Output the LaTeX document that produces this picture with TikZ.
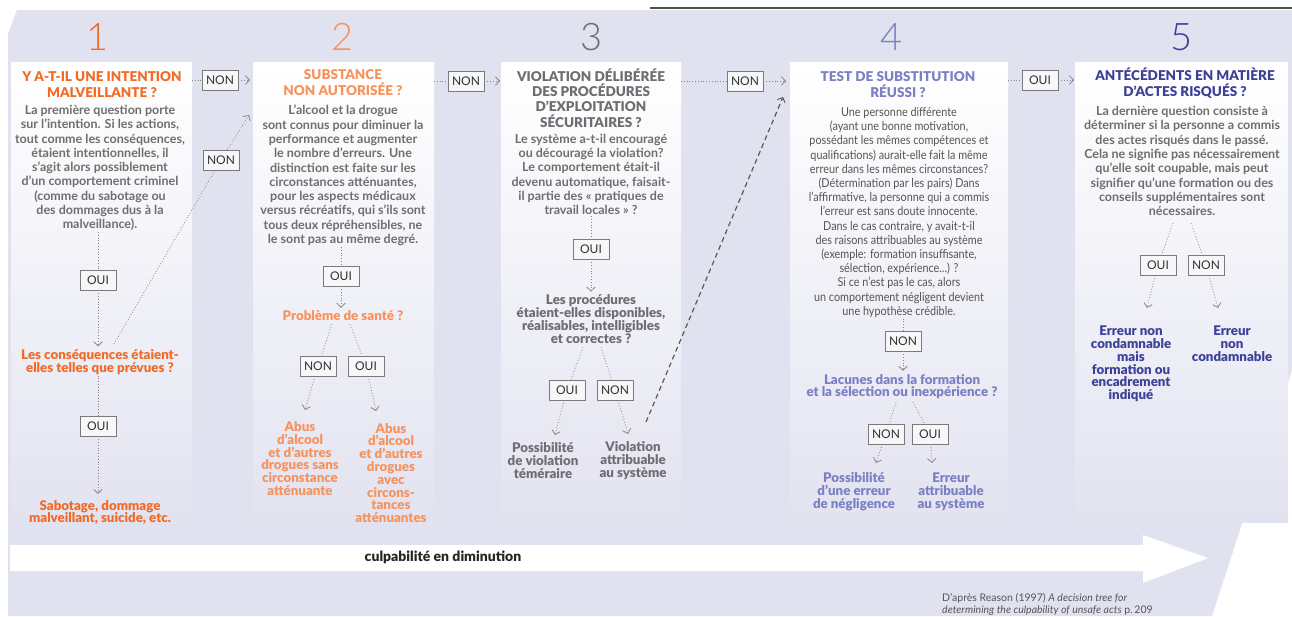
\documentclass[tikz,border=0pt]{standalone}
\usepackage{fontspec}
\setmainfont{Lato}
\IfFontExistsTF{Lato Light}{\newfontfamily\numfont{Lato Light}}{\newfontfamily\numfont{Lato}}
\IfFontExistsTF{Lato Black}{\newfontfamily\blackfont{Lato Black}}{\newfontfamily\blackfont{Lato}[UprightFont=*-Bold]}
\newfontfamily\condfont{Lato}[FakeStretch=0.88]
\usetikzlibrary{arrows.meta,calc}
\definecolor{bg}{HTML}{E1E2EF}
\definecolor{colbot}{HTML}{E2E3F0}
\definecolor{orangeA}{HTML}{F26A25}
\definecolor{orangeB}{HTML}{F7925C}
\definecolor{grayH}{HTML}{6D6D72}
\definecolor{lavH}{HTML}{7B80C5}
\definecolor{blueH}{HTML}{3D4098}
\definecolor{bodygray}{HTML}{6E6E6E}
\definecolor{bodydark}{HTML}{555555}
\definecolor{linegray}{HTML}{858585}
\definecolor{boxgray}{HTML}{7A7A7A}
\definecolor{boxfill}{HTML}{F7F7FA}
\definecolor{labeltext}{HTML}{333333}
\definecolor{topline}{HTML}{4C5148}
\definecolor{foot}{HTML}{555555}
\begin{document}
\begin{tikzpicture}[x=1pt,y=-1pt,
  lbl/.style={draw=boxgray, line width=0.8pt, fill=boxfill, minimum width=36pt, minimum height=20pt, inner sep=0pt, font=\fontsize{12}{13}\selectfont, text=labeltext},
  txt/.style={align=center, inner sep=1pt},
  body/.style={txt, text=bodygray, font=\bfseries\fontsize{12.5}{14.3}\selectfont},
  head/.style={txt, font=\blackfont\fontsize{13.5}{16}\selectfont},
  outc/.style={txt, font=\blackfont\fontsize{13.3}{12.8}\selectfont},
  num/.style={inner sep=0pt, font=\numfont\fontsize{38}{38}\selectfont},
  dl/.style={draw=linegray, line width=0.8pt, dotted},
  dla/.style={dl, -{Straight Barb[length=4pt,width=8.5pt,line width=0.8pt]}},
  dsh/.style={draw=gray!70!black, line width=1.2pt, dash pattern=on 5pt off 3.5pt, -{Straight Barb[length=4pt,width=8.5pt,line width=0.9pt]}},
  colbox/.style={top color=white, bottom color=colbot}
]
\useasboundingbox (0,0) rectangle (1292,616);
% background
\fill[bg] (8,34) -- (17,10) -- (1292,10) -- (1292,370) -- (1212,616) -- (8,616) -- cycle;
\draw[topline, line width=1.4pt] (650,8) -- (1292,8);
% column boxes
\shade[colbox] (11,62) rectangle (192,522);
\shade[colbox] (253,62) rectangle (434,522);
\shade[colbox] (501,62) rectangle (681,522);
\shade[colbox] (790,62) rectangle (1008,522);
\shade[colbox] (1075,62) rectangle (1288,522);
% bottom arrow
\fill[white] (10,545) -- (1143,545) -- (1143,535) -- (1208,558) -- (1143,583) -- (1143,571) -- (10,571) -- cycle;
\node[font=\blackfont\fontsize{14}{15}\selectfont, text=black!85, inner sep=0pt] (culp) at (443,557) {culpabilité en diminution};
% footer
\node[anchor=west, align=left, inner sep=0pt, text=foot, font=\fontsize{10.5}{11.5}\selectfont] (foot) at (942,604.5) {D’après Reason (1997) \textit{A decision tree for}\\\textit{determining the culpability of unsafe acts} p.\,209};

% numbers
\node[num, text=orangeA] (n1) at (98,37) {1};
\node[num, text=orangeB] (n2) at (343,37) {2};
\node[num, text=grayH] (n3) at (592,37) {3};
\node[num, text=lavH] (n4) at (892,37) {4};
\node[num, text=blueH] (n5) at (1182,37) {5};

% ---------- column 1
\node[head, text=orangeA] (h1) at (102,84.5) {Y A-T-IL UNE INTENTION\\MALVEILLANTE ?};
\node[body] (b1) at (100,168) {La première question porte\\sur l’intention. Si les actions,\\tout comme les conséquences,\\étaient intentionnelles, il\\s’agit alors possiblement\\d’un comportement criminel\\(comme du sabotage ou\\des dommages dus à la\\malveillance).};
\node[lbl] (oui1a) at (98,280) {OUI};
\node[outc, text=orangeA] (q1b) at (100,362) {Les conséquences étaient-\\elles telles que prévues ?};
\node[lbl] (oui1b) at (98,426) {OUI};
\node[outc, text=orangeA] (r1) at (100,512.5) {Sabotage, dommage\\malveillant, suicide, etc.};
\node[lbl] (non1) at (220,80) {NON};
\node[lbl] (non1b) at (221,160) {NON};
\coordinate (c1r) at (192,80);
\coordinate (c2l) at (250,80);
\coordinate (d1s) at (114,344);
\coordinate (d1e) at (249,115);
\draw[dl] (b1.south -| oui1a) -- (oui1a);
\draw[dla, shorten >=2pt] (oui1a) -- (q1b.north -| oui1a);
\draw[dl] (q1b.south -| oui1b) -- (oui1b);
\draw[dla, shorten >=5pt] (oui1b) -- (r1.north -| oui1b);
\draw[dl] (c1r) -- (non1);
\draw[dla] (non1) -- (c2l);
\draw[dl] (d1s) -- (non1b);
\draw[dla] (non1b) -- (d1e);

% ---------- column 2
\node[head, text=orangeB] (h2) at (343,83) {SUBSTANCE\\NON AUTORISÉE ?};
\node[body] (b2) at (343,175.5) {L’alcool et la drogue\\sont connus pour diminuer la\\performance et augmenter\\le nombre d’erreurs. Une\\distinction est faite sur les\\circonstances atténuantes,\\pour les aspects médicaux\\versus récréatifs, qui s’ils sont\\tous deux répréhensibles, ne\\le sont pas au même degré.};
\node[lbl] (oui2) at (341,276) {OUI};
\node[outc, text=orangeB] (q2) at (343,316) {Problème de santé ?};
\node[lbl] (non2a) at (318,366) {NON};
\node[lbl] (oui2a) at (366,366) {OUI};
\node[outc, text=orangeB] (r2a) at (300,458.5) {Abus\\d’alcool\\et d’autres\\drogues sans\\circonstance\\atténuante};
\node[outc, text=orangeB] (r2b) at (391,473) {Abus\\d’alcool\\et d’autres\\drogues\\avec\\circons-\\tances\\atténuantes};
\node[lbl] (non2) at (466,81) {NON};
\coordinate (t2a) at (305,410);
\coordinate (t2b) at (376,411);
\coordinate (c2r) at (434,81);
\coordinate (c3l) at (500,81);
\draw[dl] (b2.south -| oui2) -- (oui2);
\draw[dla, shorten >=2pt] (oui2) -- (q2.north -| oui2);
\draw[dl] ($(q2.south)+(-11,2)$) -- (non2a);
\draw[dl] ($(q2.south)+(7,2)$) -- (oui2a);
\draw[dla] (non2a) -- (t2a);
\draw[dla] (oui2a) -- (t2b);
\draw[dl] (c2r) -- (non2);
\draw[dla] (non2) -- (c3l);

% ---------- column 3
\node[head, text=grayH, font=\blackfont\fontsize{13.5}{15.3}\selectfont] (h3) at (591,98) {VIOLATION DÉLIBÉRÉE\\DES PROCÉDURES\\D’EXPLOITATION\\SÉCURITAIRES ?};
\node[body] (b3) at (591,174.5) {Le système a-t-il encouragé\\ou découragé la violation?\\Le comportement était-il\\devenu automatique, faisait-\\il partie des « pratiques de\\travail locales » ?};
\node[lbl] (oui3) at (591,249) {OUI};
\node[outc, text=grayH] (q3) at (591,319) {Les procédures\\étaient-elles disponibles,\\réalisables, intelligibles\\et correctes ?};
\node[lbl] (oui3a) at (567,390) {OUI};
\node[lbl] (non3a) at (615,390) {NON};
\node[outc, text=grayH] (r3a) at (543,460.5) {Possibilité\\de violation\\téméraire};
\node[outc, text=grayH] (r3b) at (633,460.5) {Violation\\attribuable\\au système};
\node[lbl] (non3) at (745,81) {NON};
\coordinate (t3a) at (555,435);
\coordinate (t3b) at (628,434);
\coordinate (d3s) at (646,422);
\coordinate (d3e) at (783,97);
\coordinate (c3r) at (681,81);
\coordinate (c4l) at (786,81);
\draw[dl] (b3.south -| oui3) -- (oui3);
\draw[dla, shorten >=2pt] (oui3) -- (q3.north -| oui3);
\draw[dl] ($(q3.south)+(-8,3)$) -- (oui3a);
\draw[dl] ($(q3.south)+(10,3)$) -- (non3a);
\draw[dla] (oui3a) -- (t3a);
\draw[dla] (non3a) -- (t3b);
\draw[dsh] (d3s) -- (d3e);
\draw[dl] (c3r) -- (non3);
\draw[dla] (non3) -- (c4l);

% ---------- column 4
\node[head, text=lavH] (h4) at (898,85) {TEST DE SUBSTITUTION\\RÉUSSI ?};
\node[txt, text=bodydark, font=\condfont\fontsize{12.3}{14.2}\selectfont] (b4) at (899,212.5) {Une personne différente\\(ayant une bonne motivation,\\possédant les mêmes compétences et\\qualifications) aurait-elle fait la même\\erreur dans les mêmes circonstances?\\(Détermination par les pairs) Dans\\l’affirmative, la personne qui a commis\\l’erreur est sans doute innocente.\\Dans le cas contraire, y avait-t-il\\des raisons attribuables au système\\(exemple: formation insuffisante,\\sélection, expérience...) ?\\Si ce n’est pas le cas, alors\\un comportement négligent devient\\une hypothèse crédible.};
\node[lbl] (non4) at (903,341) {NON};
\node[outc, text=lavH] (q4) at (902,386.5) {Lacunes dans la formation\\et la sélection ou inexpérience ?};
\node[lbl] (non4a) at (886,434) {NON};
\node[lbl] (oui4a) at (930,434) {OUI};
\node[outc, text=lavH] (r4a) at (854,491.5) {Possibilité\\d’une erreur\\de négligence};
\node[outc, text=lavH] (r4b) at (951,491.5) {Erreur\\attribuable\\au système};
\node[lbl] (oui4) at (1040,80) {OUI};
\coordinate (t4a) at (876,463);
\coordinate (t4b) at (932,463);
\coordinate (c4r) at (1008,80);
\coordinate (c5l) at (1074,80);
\draw[dl] (b4.south -| non4) -- (non4);
\draw[dla, shorten >=2pt] (non4) -- (q4.north -| non4);
\draw[dl] ($(q4.south)+(-6,2)$) -- (non4a);
\draw[dl] ($(q4.south)+(11,2)$) -- (oui4a);
\draw[dla] (non4a) -- (t4a);
\draw[dla] (oui4a) -- (t4b);
\draw[dl] (c4r) -- (oui4);
\draw[dla] (oui4) -- (c5l);

% ---------- column 5
\node[head, text=blueH] (h5) at (1185,83) {ANTÉCÉDENTS EN MATIÈRE\\D’ACTES RISQUÉS ?};
\node[body] (b5) at (1182,161) {La dernière question consiste à\\déterminer si la personne a commis\\des actes risqués dans le passé.\\Cela ne signifie pas nécessairement\\qu’elle soit coupable, mais peut\\signifier qu’une formation ou des\\conseils supplémentaires sont\\nécessaires.};
\node[lbl] (oui5a) at (1158,265) {OUI};
\node[lbl] (non5a) at (1206,265) {NON};
\node[outc, text=blueH] (r5a) at (1131,364) {Erreur non\\condamnable\\mais\\formation ou\\encadrement\\indiqué};
\node[outc, text=blueH] (r5b) at (1232,344) {Erreur\\non\\condamnable};
\coordinate (t5a) at (1147,308);
\coordinate (t5b) at (1218,308);
\draw[dl] ($(b5.south)+(-9,6)$) -- (oui5a);
\draw[dl] ($(b5.south)+(9,6)$) -- (non5a);
\draw[dla] (oui5a) -- (t5a);
\draw[dla] (non5a) -- (t5b);
\end{tikzpicture}
\end{document}
